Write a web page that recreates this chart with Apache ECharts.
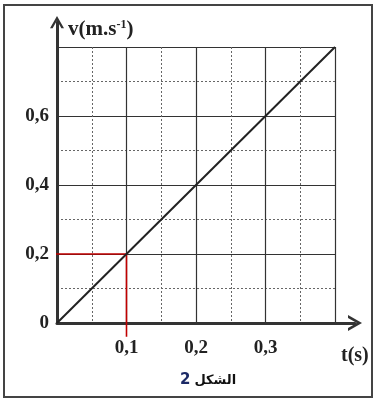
<!DOCTYPE html>
<html><head><meta charset="utf-8">
<script src="https://cdn.jsdelivr.net/npm/echarts@6/dist/echarts.min.js"></script>
<style>html,body{margin:0;padding:0;background:#fff}#c{width:376px;height:401px}</style>
</head><body><div id="c"></div>
<script>
// Data
const tValues = [0, 0.4];          // t (s)
const vValues = [0, 0.8];          // v (m/s)
const redT = [-0.012, 0.1, 0.1];   // reading guide for t=0.1
const redV = [0.2, 0.2, -0.04];
const xTickLabels = ['0,1', '0,2', '0,3'];
const yTickLabels = ['0', '0,2', '0,4', '0,6'];

const chart = echarts.init(document.getElementById('c'), null, {renderer: 'canvas'});
const labelFont = {fontFamily: 'Liberation Serif', fontWeight: 'bold', fontSize: 19, color: '#222'};
const chevron = 'path://M8,0 L16,14 L13,14 L8,5.2 L3,14 L0,14 Z';

chart.setOption({
  animation: false,
  backgroundColor: '#fff',
  graphic: [{type: 'rect', shape: {x: 4, y: 5, width: 368, height: 392},
    style: {fill: 'none', stroke: '#444', lineWidth: 2}, z: 100}],
  title: [
    {text: 'v(m.s{sup|-1})', left: 63, top: 14,
     textStyle: {fontFamily: 'Liberation Serif', fontWeight: 'bold', fontSize: 21, color: '#222',
       rich: {sup: {fontFamily: 'Liberation Serif', fontWeight: 'bold', fontSize: 12, color: '#222', verticalAlign: 'top', padding: [0,0,10,0]}}}},
    {text: 't(s)', left: 336, top: 341,
     textStyle: {fontFamily: 'Liberation Serif', fontWeight: 'bold', fontSize: 20, color: '#222'}},
    {text: '{n|2}{a|الشكل}', left: 175, top: 368,
     textStyle: {rich: {
       n: {fontFamily: 'DejaVu Sans', fontWeight: 'bold', fontSize: 15, color: '#1c2a66', padding: [0, 4, 0, 0]},
       a: {fontFamily: 'DejaVu Sans', fontWeight: 'bold', fontSize: 13, color: '#111'}}}}
  ],
  grid: [
    {left: 57, right: 41, top: 47, bottom: 78},
    {left: 57, right: 21, top: 22, bottom: 78}
  ],
  xAxis: [
    {type: 'value', gridIndex: 0, min: 0, max: 0.4, interval: 0.1,
     axisLine: {show: false}, axisTick: {show: false},
     axisLabel: {margin: 16, ...labelFont,
       formatter: v => { const i = Math.round(v * 10) - 1; return (i >= 0 && i < xTickLabels.length) ? xTickLabels[i] : ''; }},
     splitLine: {show: true, lineStyle: {color: '#333', width: 1.2}},
     minorTick: {show: false, splitNumber: 2},
     minorSplitLine: {show: true, lineStyle: {color: '#666', width: 1, type: [2, 2]}}},
    {type: 'value', gridIndex: 1, min: 0, max: 1,
     axisLine: {show: true, symbol: ['none', chevron], symbolSize: [16, 15],
       lineStyle: {color: '#333', width: 3}},
     axisTick: {show: false}, axisLabel: {show: false}, splitLine: {show: false}}
  ],
  yAxis: [
    {type: 'value', gridIndex: 0, min: 0, max: 0.8, interval: 0.2,
     axisLine: {show: false}, axisTick: {show: false},
     axisLabel: {margin: 8, ...labelFont,
       formatter: v => { const i = Math.round(v * 5); return i < yTickLabels.length ? yTickLabels[i] : ''; }},
     splitLine: {show: true, lineStyle: {color: '#333', width: 1.2}},
     minorTick: {show: false, splitNumber: 2},
     minorSplitLine: {show: true, lineStyle: {color: '#666', width: 1, type: [2, 2]}}},
    {type: 'value', gridIndex: 1, min: 0, max: 1,
     axisLine: {show: true, symbol: ['none', chevron], symbolSize: [14, 14],
       lineStyle: {color: '#333', width: 3}},
     axisTick: {show: false}, axisLabel: {show: false}, splitLine: {show: false}}
  ],
  series: [
    {type: 'line', xAxisIndex: 0, yAxisIndex: 0, data: tValues.map((t, i) => [t, vValues[i]]),
     showSymbol: false, symbol: 'none', lineStyle: {color: '#222', width: 2}, z: 5},
    {type: 'line', xAxisIndex: 0, yAxisIndex: 0, data: redT.map((t, i) => [t, redV[i]]),
     showSymbol: false, symbol: 'none', clip: false, lineStyle: {color: '#c00000', width: 1.6}, z: 4}
  ]
});
</script></body></html>
